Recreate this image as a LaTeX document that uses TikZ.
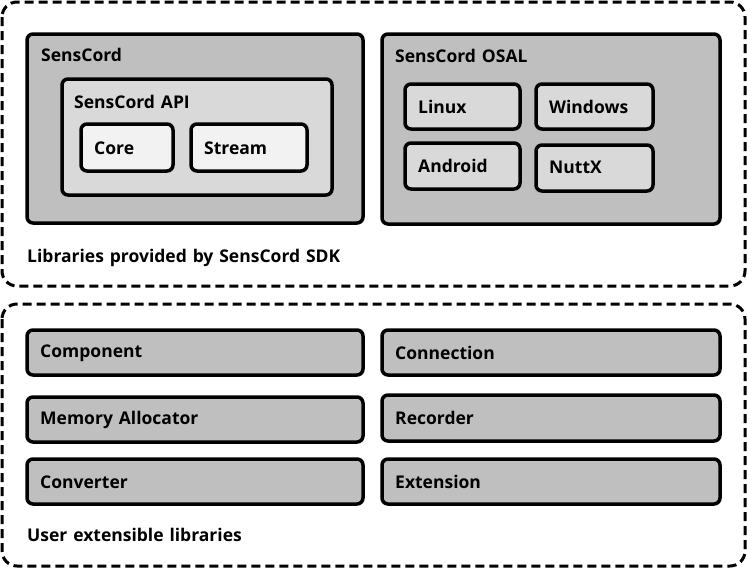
\documentclass[tikz,border=0pt]{standalone}
\usepackage{fontspec}
\setmainfont{Open Sans}[WordSpace=1.3]
\definecolor{gdark}{HTML}{BFBFBF}
\definecolor{gmid}{HTML}{D9D9D9}
\definecolor{glight}{HTML}{F2F2F2}
\begin{document}
\begin{tikzpicture}[x=1pt,y=-1pt,line join=round,
  group/.style={line width=3pt,dash pattern=on 9pt off 5pt,rounded corners=15pt},
  box/.style={line width=3.5pt,rounded corners=6pt,fill=#1},
  lbl/.style={anchor=west,inner sep=0pt,font=\fontsize{17.5}{20}\selectfont\bfseries}]
\useasboundingbox(0,0)rectangle(747,568);
\draw[group](2,2)rectangle(745,286);
\draw[group](2,304)rectangle(745,566);
\draw[box=gdark](27,34)rectangle(363,223);\node[lbl](sc)at(41,55){SensCord};
\draw[box=gmid](62,79)rectangle(332,195);\node[lbl](api)at(74,102){SensCord API};
\draw[box=glight](81,124)rectangle(173,171);\node[lbl](core)at(94,148){Core};
\draw[box=glight](191,124)rectangle(307,171);\node[lbl](stream)at(204,148){Stream};
\draw[box=gdark](382,34)rectangle(720,224);\node[lbl](osal)at(395,56){SensCord OSAL};
\draw[box=gmid](405,84)rectangle(520,129);\node[lbl](linux)at(418,107){Linux};
\draw[box=gmid](536,84)rectangle(653,129);\node[lbl](win)at(549,107){Windows};
\draw[box=gmid](405,143)rectangle(520,189);\node[lbl](andr)at(418,166){Android};
\draw[box=gmid](536,145)rectangle(653,191);\node[lbl](nuttx)at(549,167){NuttX};
\node[lbl](sdk)at(27,258){Libraries provided by SensCord SDK};
\draw[box=gdark](27,330)rectangle(363,375);\node[lbl](comp)at(40,353){Component};
\draw[box=gdark](27,397)rectangle(363,442);\node[lbl](mem)at(40,420){Memory Allocator};
\draw[box=gdark](27,459)rectangle(363,504);\node[lbl](conv)at(40,482){Converter};
\draw[box=gdark](382,330)rectangle(720,375);\node[lbl](conn)at(395,353){Connection};
\draw[box=gdark](382,395)rectangle(720,441);\node[lbl](rec)at(395,418){Recorder};
\draw[box=gdark](382,459)rectangle(720,504);\node[lbl](ext)at(395,482){Extension};
\node[lbl](user)at(27,535){User extensible libraries};
\end{tikzpicture}
\end{document}
